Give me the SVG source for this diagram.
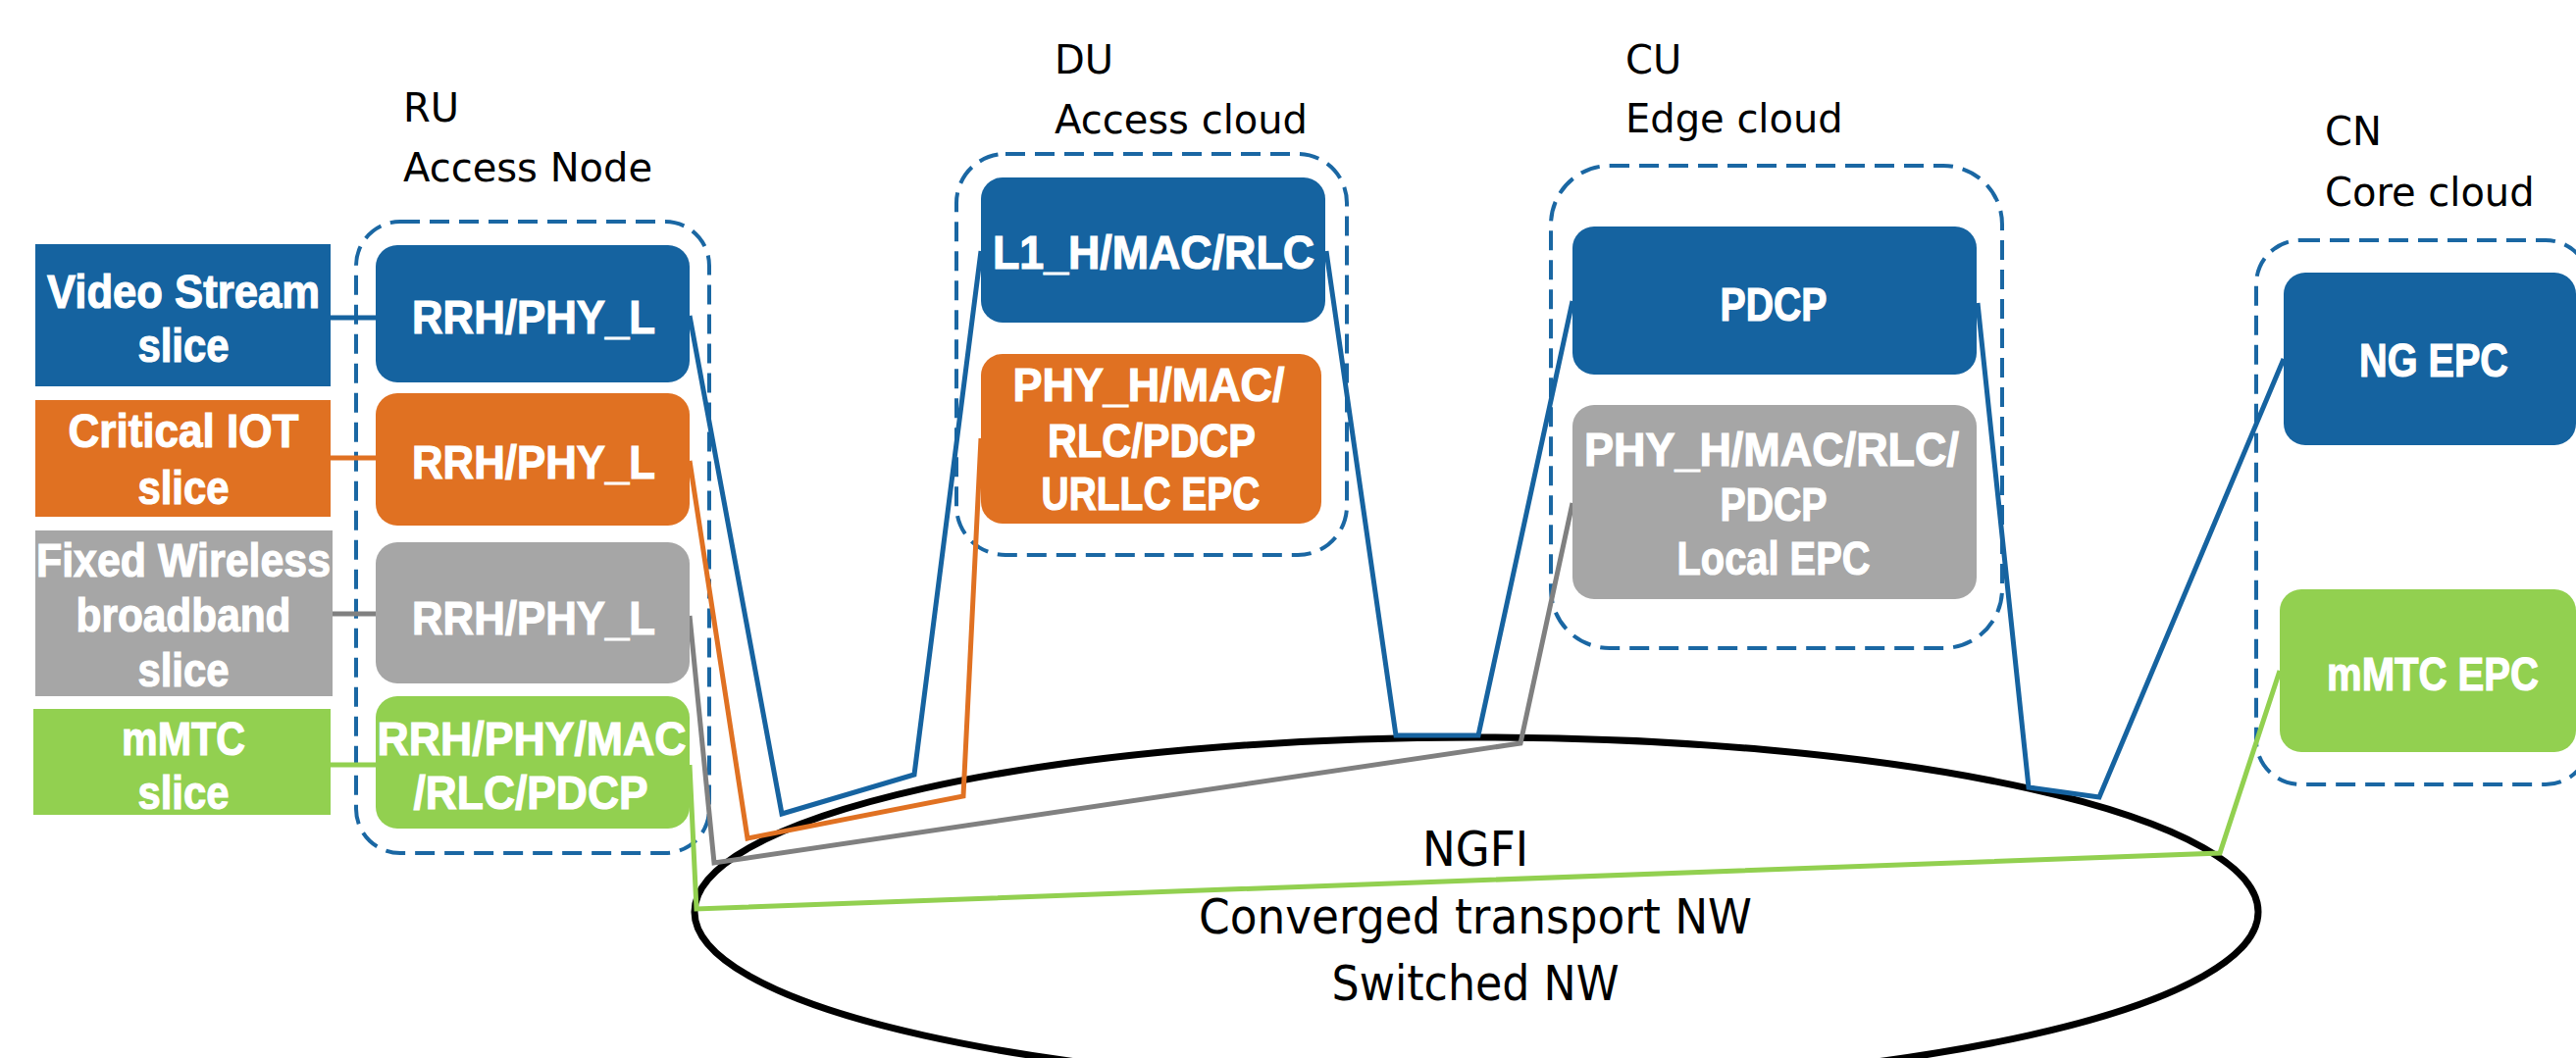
<svg xmlns="http://www.w3.org/2000/svg" width="2626" height="1079" viewBox="0 0 2626 1079">
<style>
.title{font-family:"DejaVu Sans",Verdana,sans-serif;font-size:40px;fill:#000}
.lbl{font-family:"Liberation Sans",Arial,sans-serif;font-weight:bold;font-size:49px;fill:#fff;stroke:#fff;stroke-width:1.2;text-anchor:middle}
.net{font-family:"DejaVu Sans",Verdana,sans-serif;font-size:50px;fill:#000;text-anchor:middle}
.dash{fill:none;stroke:#1a67a3;stroke-width:4;stroke-dasharray:20 10}
.blue{fill:#1563a0}
.orange{fill:#e07122}
.gray{fill:#a6a6a6}
.green{fill:#92d050}
.ln{fill:none;stroke-width:5;stroke-linejoin:miter}
.lb{stroke:#1663a0}
.lo{stroke:#e07122}
.lg{stroke:#808080}
.lgr{stroke:#92d050}
</style>
<rect width="2626" height="1079" fill="#fff"/>

<g id="ngfi">
<ellipse cx="1505" cy="930" rx="797" ry="178" fill="#fff" stroke="#000" stroke-width="7"/>
<text class="net" x="1504" y="883" textLength="108" lengthAdjust="spacingAndGlyphs">NGFI</text>
<text class="net" x="1504" y="952" textLength="564" lengthAdjust="spacingAndGlyphs">Converged transport NW</text>
<text class="net" x="1504" y="1020" textLength="293" lengthAdjust="spacingAndGlyphs">Switched NW</text>
</g>

<g id="containers">
<g id="ru-group">
<rect class="dash" x="363" y="226" width="360" height="644" rx="45"/>
<text class="title" x="411" y="124">RU</text>
<text class="title" x="411" y="185">Access Node</text>
</g>
<g id="du-group">
<rect class="dash" x="975" y="157" width="398" height="409" rx="50"/>
<text class="title" x="1075" y="75">DU</text>
<text class="title" x="1075" y="136">Access cloud</text>
</g>
<g id="cu-group">
<rect class="dash" x="1581" y="169" width="460" height="492" rx="60"/>
<text class="title" x="1657" y="75">CU</text>
<text class="title" x="1657" y="135">Edge cloud</text>
</g>
<g id="cn-group">
<rect class="dash" x="2300" y="245" width="340" height="555" rx="45"/>
<text class="title" x="2370" y="148">CN</text>
<text class="title" x="2370" y="210">Core cloud</text>
</g>
</g>

<g id="connectors">
<line class="ln lb" x1="337" y1="324" x2="383" y2="324"/>
<line class="ln lo" x1="337" y1="467" x2="383" y2="467"/>
<line class="ln lg" x1="339" y1="626" x2="383" y2="626"/>
<line class="ln lgr" x1="337" y1="780" x2="383" y2="780"/>
<polyline class="ln lb" points="703,322 797,830 932,790 1000,256"/>
<polyline class="ln lo" points="703,470 762,855 982,812 1000,447"/>
<polyline class="ln lg" points="703,628 728,880 1550,758 1603,513"/>
<polyline class="ln lgr" stroke-width="7" points="703,780 710,927 2263,870 2324,684"/>
<polyline class="ln lb" points="1352,256 1423,750 1507,750 1603,307"/>
<polyline class="ln lb" points="2016,309 2068,803 2140,813 2328,366"/>
</g>

<g id="slice-video">
<rect class="blue" x="36" y="249" width="301" height="145"/>
<text class="lbl" x="187" y="314" textLength="278" lengthAdjust="spacingAndGlyphs">Video Stream</text>
<text class="lbl" x="187" y="369" textLength="93" lengthAdjust="spacingAndGlyphs">slice</text>
</g>
<g id="slice-iot">
<rect class="orange" x="36" y="408" width="301" height="119"/>
<text class="lbl" x="187" y="456" textLength="235" lengthAdjust="spacingAndGlyphs">Critical IOT</text>
<text class="lbl" x="187" y="514" textLength="93" lengthAdjust="spacingAndGlyphs">slice</text>
</g>
<g id="slice-fwb">
<rect class="gray" x="36" y="541" width="303" height="169"/>
<text class="lbl" x="187" y="588" textLength="300" lengthAdjust="spacingAndGlyphs">Fixed Wireless</text>
<text class="lbl" x="187" y="644" textLength="219" lengthAdjust="spacingAndGlyphs">broadband</text>
<text class="lbl" x="187" y="700" textLength="93" lengthAdjust="spacingAndGlyphs">slice</text>
</g>
<g id="slice-mmtc">
<rect class="green" x="34" y="723" width="303" height="108"/>
<text class="lbl" x="187" y="770" textLength="126" lengthAdjust="spacingAndGlyphs">mMTC</text>
<text class="lbl" x="187" y="825" textLength="93" lengthAdjust="spacingAndGlyphs">slice</text>
</g>

<g id="ru-video">
<rect class="blue" x="383" y="250" width="320" height="140" rx="22"/>
<text class="lbl" x="544" y="340" textLength="248" lengthAdjust="spacingAndGlyphs">RRH/PHY_L</text>
</g>
<g id="ru-iot">
<rect class="orange" x="383" y="401" width="320" height="135" rx="22"/>
<text class="lbl" x="544" y="488" textLength="248" lengthAdjust="spacingAndGlyphs">RRH/PHY_L</text>
</g>
<g id="ru-fwb">
<rect class="gray" x="383" y="553" width="320" height="144" rx="22"/>
<text class="lbl" x="544" y="647" textLength="248" lengthAdjust="spacingAndGlyphs">RRH/PHY_L</text>
</g>
<g id="ru-mmtc">
<rect class="green" x="383" y="710" width="320" height="135" rx="22"/>
<text class="lbl" x="542" y="770" textLength="315" lengthAdjust="spacingAndGlyphs">RRH/PHY/MAC</text>
<text class="lbl" x="541" y="825" textLength="239" lengthAdjust="spacingAndGlyphs">/RLC/PDCP</text>
</g>

<g id="du-l1">
<rect class="blue" x="1000" y="181" width="351" height="148" rx="22"/>
<text class="lbl" x="1176" y="274" textLength="328" lengthAdjust="spacingAndGlyphs">L1_H/MAC/RLC</text>
</g>
<g id="du-urllc">
<rect class="orange" x="1000" y="361" width="347" height="173" rx="22"/>
<text class="lbl" x="1171" y="409" textLength="277" lengthAdjust="spacingAndGlyphs">PHY_H/MAC/</text>
<text class="lbl" x="1174" y="466" textLength="212" lengthAdjust="spacingAndGlyphs">RLC/PDCP</text>
<text class="lbl" x="1173" y="520" textLength="223" lengthAdjust="spacingAndGlyphs">URLLC EPC</text>
</g>

<g id="cu-pdcp">
<rect class="blue" x="1603" y="231" width="412" height="151" rx="22"/>
<text class="lbl" x="1808" y="327" textLength="109" lengthAdjust="spacingAndGlyphs">PDCP</text>
</g>
<g id="cu-local">
<rect class="gray" x="1603" y="413" width="412" height="198" rx="22"/>
<text class="lbl" x="1806" y="475" textLength="382" lengthAdjust="spacingAndGlyphs">PHY_H/MAC/RLC/</text>
<text class="lbl" x="1808" y="531" textLength="109" lengthAdjust="spacingAndGlyphs">PDCP</text>
<text class="lbl" x="1808" y="586" textLength="197" lengthAdjust="spacingAndGlyphs">Local EPC</text>
</g>

<g id="cn-ngepc">
<rect class="blue" x="2328" y="278" width="298" height="176" rx="22"/>
<text class="lbl" x="2481" y="384" textLength="152" lengthAdjust="spacingAndGlyphs">NG EPC</text>
</g>
<g id="cn-mmtcepc">
<rect class="green" x="2324" y="601" width="302" height="166" rx="22"/>
<text class="lbl" x="2480" y="704" textLength="216" lengthAdjust="spacingAndGlyphs">mMTC EPC</text>
</g>
</svg>
